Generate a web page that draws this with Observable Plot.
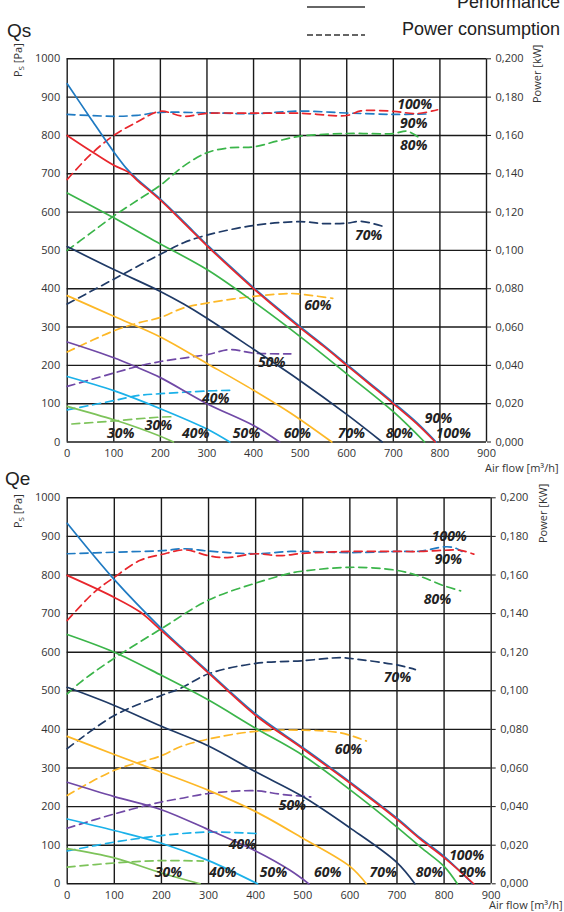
<!DOCTYPE html>
<html>
<head>
<meta charset="utf-8">
<script src="https://cdn.jsdelivr.net/npm/d3@7"></script>
<script src="https://cdn.jsdelivr.net/npm/@observablehq/plot@0.6"></script>
<style>
  body { margin: 0; background: #fff; }
  #chart { position: relative; width: 564px; height: 912px; overflow: hidden; font-family: "Open Sans", sans-serif; }
</style>
</head>
<body>
<div id="chart"></div>
<script>
// Fan speed settings, drawn from the lowest to the highest
const speeds = ["30%", "40%", "50%", "60%", "70%", "80%", "90%", "100%"];
const speedColors = ["#7dc35a", "#1bb1e9", "#7049a6", "#fdb827", "#1f3a66", "#3bb54a", "#1f7ac2", "#e8262c"];

// Axis ticks
const flowTicks = [0, 100, 200, 300, 400, 500, 600, 700, 800, 900];
const psTicks = [0, 100, 200, 300, 400, 500, 600, 700, 800, 900, 1000];
const kwTicks = [0, 0.02, 0.04, 0.06, 0.08, 0.1, 0.12, 0.14, 0.16, 0.18, 0.2];

// Qs: static pressure [Pa] vs air flow [m³/h]
const qsPs30 = [[0, 93], [100, 58], [150, 38], [200, 15], [228, 0]];
const qsPs40 = [[0, 171], [100, 134], [200, 87], [300, 34], [349, 0]];
const qsPs50 = [[0, 261], [100, 220], [150, 195], [200, 168], [300, 100], [400, 43], [456, 0]];
const qsPs60 = [[0, 382], [100, 328], [200, 274], [300, 205], [400, 135], [480, 75], [568, 0]];
const qsPs70 = [[0, 510], [100, 450], [200, 393], [250, 360], [300, 323], [400, 242], [500, 160], [600, 72], [676, 0]];
const qsPs80 = [[0, 650], [100, 585], [186, 526], [300, 450], [400, 366], [500, 275], [600, 178], [700, 79], [767, 0]];
const qsPs90 = [[0, 935], [50, 845], [100, 757], [130, 710], [150, 686], [200, 634], [250, 575], [300, 515], [350, 458], [400, 403], [450, 351], [500, 301], [550, 253], [600, 203], [650, 153], [700, 103], [750, 51], [792, 0]];
const qsPs100 = [[0, 800], [50, 760], [100, 722], [130, 705], [150, 683], [200, 631], [250, 572], [300, 512], [350, 455], [400, 400], [450, 348], [500, 298], [550, 250], [600, 200], [650, 150], [700, 100], [750, 48], [790, 0]];

// Qs: power consumption [kW] vs air flow [m³/h]
const qsKw30 = [[10, 0.0094], [100, 0.011], [200, 0.013], [228, 0.0132]];
const qsKw40 = [[0, 0.0168], [100, 0.0216], [150, 0.0242], [200, 0.0252], [300, 0.0266], [350, 0.027]];
const qsKw50 = [[0, 0.029], [100, 0.036], [150, 0.0394], [200, 0.042], [300, 0.0456], [350, 0.0482], [400, 0.0464], [480, 0.046]];
const qsKw60 = [[0, 0.047], [100, 0.058], [150, 0.062], [200, 0.065], [250, 0.070], [300, 0.0725], [400, 0.076], [480, 0.0775], [500, 0.0772], [570, 0.075]];
const qsKw70 = [[0, 0.072], [100, 0.085], [200, 0.098], [250, 0.104], [300, 0.108], [400, 0.113], [500, 0.115], [550, 0.114], [600, 0.1142], [630, 0.1152], [677, 0.1126]];
const qsKw80 = [[0, 0.100], [50, 0.109], [100, 0.118], [150, 0.126], [200, 0.134], [250, 0.144], [300, 0.151], [350, 0.1536], [400, 0.154], [450, 0.157], [500, 0.1596], [600, 0.161], [700, 0.161], [730, 0.1622], [760, 0.158]];
const qsKw90 = [[0, 0.171], [100, 0.170], [150, 0.1705], [200, 0.172], [300, 0.1718], [400, 0.1714], [500, 0.1727], [600, 0.1717], [700, 0.171], [773, 0.1712]];
const qsKw100 = [[0, 0.137], [50, 0.150], [100, 0.160], [150, 0.167], [200, 0.1726], [250, 0.170], [300, 0.1715], [400, 0.1716], [500, 0.1716], [600, 0.1704], [630, 0.1728], [700, 0.1726], [750, 0.1714], [795, 0.1734]];

// Qe: static pressure [Pa] vs air flow [m³/h]
const qePs30 = [[0, 91], [100, 67], [200, 28], [282, 0]];
const qePs40 = [[0, 168], [100, 138], [200, 105], [300, 60], [404, 0]];
const qePs50 = [[0, 263], [100, 226], [200, 192], [300, 140], [400, 85], [473, 35], [513, 0]];
const qePs60 = [[0, 382], [100, 335], [200, 289], [300, 242], [400, 187], [500, 118], [600, 45], [635, 0]];
const qePs70 = [[0, 509], [100, 462], [200, 408], [300, 357], [400, 290], [500, 226], [600, 145], [700, 55], [738, 0]];
const qePs80 = [[0, 646], [100, 600], [200, 540], [300, 476], [400, 403], [500, 333], [600, 244], [700, 147], [750, 95], [800, 45], [828, 0]];
const qePs90 = [[0, 934], [100, 788], [200, 661], [247, 607], [300, 549], [400, 440], [500, 353], [600, 264], [700, 170], [750, 118], [800, 71], [861, 0]];
const qePs100 = [[0, 799], [100, 742], [155, 704], [200, 656], [247, 604], [300, 546], [400, 436], [500, 350], [600, 261], [700, 167], [750, 115], [800, 68], [863, 0]];

// Qe: power consumption [kW] vs air flow [m³/h]
const qeKw30 = [[0, 0.0086], [100, 0.0108], [200, 0.012], [289, 0.0118]];
const qeKw40 = [[0, 0.017], [100, 0.0216], [200, 0.025], [300, 0.0268], [406, 0.026]];
const qeKw50 = [[0, 0.0288], [100, 0.0362], [200, 0.0424], [240, 0.0442], [300, 0.0468], [400, 0.0482], [453, 0.0464], [517, 0.045]];
const qeKw60 = [[0, 0.0458], [100, 0.0588], [200, 0.0664], [240, 0.071], [300, 0.075], [400, 0.079], [500, 0.0796], [580, 0.0782], [635, 0.074]];
const qeKw70 = [[0, 0.070], [100, 0.0872], [200, 0.0976], [240, 0.1012], [300, 0.1088], [400, 0.1142], [500, 0.1156], [580, 0.1172], [600, 0.1168], [700, 0.1134], [739, 0.111]];
const qeKw80 = [[0, 0.0984], [28, 0.1044], [92, 0.1156], [200, 0.1322], [300, 0.147], [400, 0.1558], [475, 0.161], [500, 0.162], [600, 0.164], [700, 0.1624], [750, 0.1592], [800, 0.1544], [835, 0.1518]];
const qeKw90 = [[0, 0.171], [100, 0.1718], [200, 0.1726], [250, 0.1736], [300, 0.1724], [400, 0.171], [475, 0.1722], [600, 0.1716], [700, 0.1722], [750, 0.1724], [800, 0.1746], [821, 0.1742], [838, 0.1722]];
const qeKw100 = [[0, 0.1364], [57, 0.151], [100, 0.1588], [155, 0.1676], [200, 0.1706], [250, 0.173], [300, 0.170], [340, 0.169], [400, 0.171], [452, 0.170], [500, 0.1712], [600, 0.1722], [700, 0.1722], [750, 0.1722], [800, 0.1728], [835, 0.1728], [863, 0.1708]];

// Speed tags placed on the charts: [text, air flow, pressure-axis value]
const qsTags = [
  ["100%", 746, 881], ["90%", 744, 831], ["80%", 744, 774], ["70%", 647, 539],
  ["60%", 538, 356], ["50%", 439, 208], ["40%", 319, 114], ["30%", 196, 43],
  ["30%", 115, 22], ["40%", 276, 22], ["50%", 385, 22], ["60%", 494, 22],
  ["70%", 610, 22], ["80%", 713, 22], ["90%", 797, 61], ["100%", 829, 22]
];
const qeTags = [
  ["100%", 811, 900], ["90%", 809, 840], ["80%", 786, 736], ["70%", 701, 534],
  ["60%", 597, 348], ["50%", 478, 203], ["40%", 372, 102],
  ["30%", 215, 29], ["40%", 330, 29], ["50%", 438, 29], ["60%", 553, 29],
  ["70%", 671, 29], ["80%", 769, 29], ["90%", 860, 29], ["100%", 848, 74]
];

// 0.200 kW on the right axis sits level with 1000 Pa on the left one
const PA_PER_KW = 1000 / 0.2;

function toRows(series) {
  return series.flatMap((pts, i) => pts.map(([q, v]) => ({speed: speeds[i], q, v})));
}

function panel({ps, kw, tags, top, height, marginTop, marginBottom, marginRight}) {
  const svg = Plot.plot({
    width: 564,
    height,
    marginTop,
    marginBottom,
    marginLeft: 66.7,
    marginRight,
    x: {domain: [0, 900]},
    y: {domain: [0, 1000]},
    color: {domain: speeds, range: speedColors},
    style: {fontFamily: "Open Sans", fontSize: "11px", color: "#333", background: "transparent", overflow: "visible"},
    marks: [
      Plot.gridX({ticks: flowTicks, stroke: "#1a1a1a", strokeOpacity: 1, strokeWidth: 1.4}),
      Plot.gridY({ticks: psTicks, stroke: "#1a1a1a", strokeOpacity: 1, strokeWidth: 1.4}),
      Plot.axisX({ticks: flowTicks, tickFormat: (d) => String(d), tickSize: 0, tickPadding: 7, label: null}),
      Plot.axisY({ticks: psTicks, tickFormat: (d) => String(d), tickSize: 0, tickPadding: 7, label: null}),
      Plot.axisY({
        anchor: "right",
        ticks: kwTicks.map((k) => k * PA_PER_KW),
        tickFormat: (v) => (v / PA_PER_KW).toFixed(3).replace(".", ","),
        tickSize: 4,
        tickPadding: 5,
        stroke: "#1a1a1a",
        label: null
      }),
      Plot.line(toRows(kw), {
        x: "q", y: (d) => d.v * PA_PER_KW, z: "speed", stroke: "speed",
        strokeWidth: 1.7, strokeDasharray: "8,5", curve: "catmull-rom"
      }),
      Plot.line(toRows(ps), {
        x: "q", y: "v", z: "speed", stroke: "speed",
        strokeWidth: 1.7, curve: "catmull-rom"
      }),
      Plot.text(tags, {
        x: (d) => d[1], y: (d) => d[2], text: (d) => d[0],
        fontSize: 14, fontWeight: "bold", fontStyle: "italic", fill: "#222"
      })
    ]
  });
  svg.style.position = "absolute";
  svg.style.left = "0px";
  svg.style.top = top + "px";
  return svg;
}

const chart = document.getElementById("chart");

chart.appendChild(panel({
  ps: [qsPs30, qsPs40, qsPs50, qsPs60, qsPs70, qsPs80, qsPs90, qsPs100],
  kw: [qsKw30, qsKw40, qsKw50, qsKw60, qsKw70, qsKw80, qsKw90, qsKw100],
  tags: qsTags,
  top: 0, height: 460, marginTop: 58.3, marginBottom: 18.5, marginRight: 78
}));

chart.appendChild(panel({
  ps: [qePs30, qePs40, qePs50, qePs60, qePs70, qePs80, qePs90, qePs100],
  kw: [qeKw30, qeKw40, qeKw50, qeKw60, qeKw70, qeKw80, qeKw90, qeKw100],
  tags: qeTags,
  top: 460, height: 452, marginTop: 37.3, marginBottom: 28.7, marginRight: 73.3
}));

// Titles, axis names and the line-style key
const overlay = d3.create("svg")
  .attr("width", 564).attr("height", 912)
  .style("position", "absolute").style("left", "0px").style("top", "0px")
  .style("overflow", "visible");

const key = overlay.append("g").attr("font-family", "Liberation Sans, Arial, sans-serif").attr("font-size", 18).attr("fill", "#222");
key.append("line").attr("x1", 307).attr("x2", 365).attr("y1", 7).attr("y2", 7).attr("stroke", "#333").attr("stroke-width", 1.6);
key.append("line").attr("x1", 307).attr("x2", 365).attr("y1", 35).attr("y2", 35).attr("stroke", "#333").attr("stroke-width", 1.6).attr("stroke-dasharray", "6,3");
key.append("text").attr("x", 560).attr("y", 8).attr("text-anchor", "end").text("Performance");
key.append("text").attr("x", 560).attr("y", 35).attr("text-anchor", "end").text("Power consumption");

const titles = overlay.append("g").attr("font-family", "Liberation Sans, Arial, sans-serif").attr("font-size", 19).attr("fill", "#222");
titles.append("text").attr("x", 7).attr("y", 37).text("Qs");
titles.append("text").attr("x", 5).attr("y", 485).text("Qe");

const names = overlay.append("g").attr("font-family", "Open Sans, sans-serif").attr("font-size", 11).attr("fill", "#333");
function psName(x, y) {
  const t = names.append("text").attr("transform", `translate(${x},${y}) rotate(-90)`);
  t.append("tspan").text("P");
  t.append("tspan").attr("dy", 2).attr("font-size", 8).text("S");
  t.append("tspan").attr("dy", -2).text(" [Pa]");
}
psName(22, 77);
psName(22, 528);
names.append("text").attr("transform", "translate(541,103) rotate(-90)").text("Power [kW]");
names.append("text").attr("transform", "translate(547,543) rotate(-90)").text("Power [KW]");
names.append("text").attr("x", 485).attr("y", 472).text("Air flow [m³/h]");
names.append("text").attr("x", 489).attr("y", 909).text("Air flow [m³/h]");

chart.appendChild(overlay.node());
</script>
</body>
</html>
